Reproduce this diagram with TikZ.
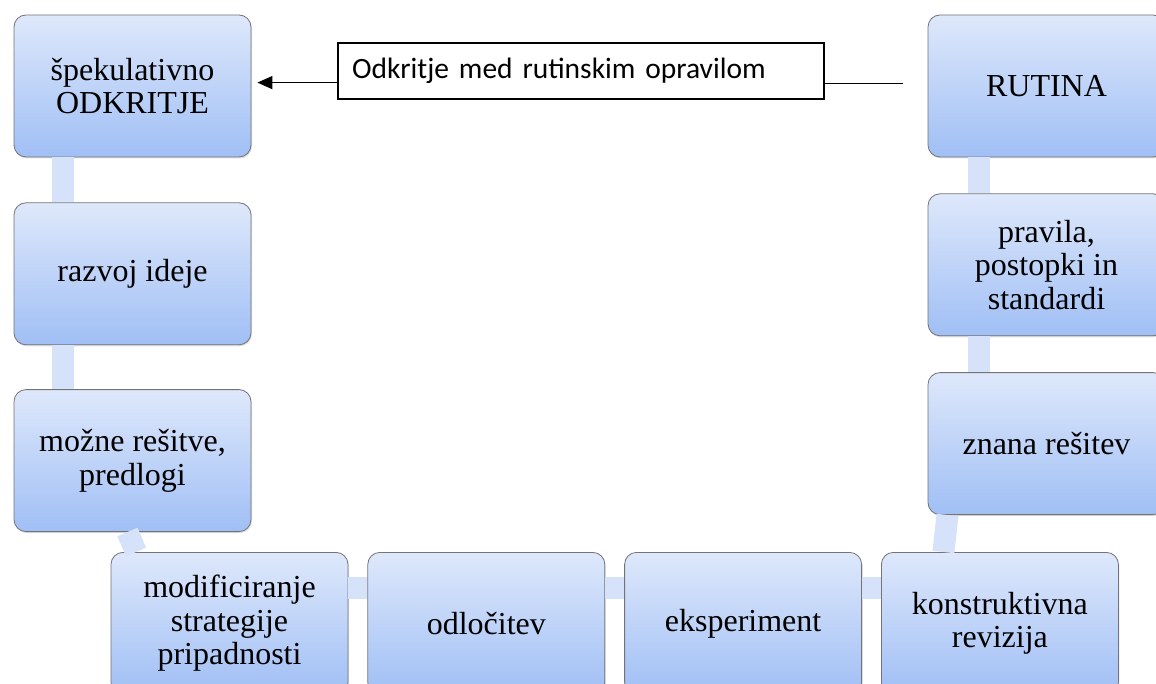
\documentclass[tikz,border=0pt]{standalone}
\usepackage{fontspec}
\setmainfont{Liberation Serif}
\newfontfamily\calib{Carlito}
\usetikzlibrary{positioning, arrows.meta, shadows}
\definecolor{boxtop}{RGB}{222,232,251}
\definecolor{boxbot}{RGB}{160,191,245}
\definecolor{boxline}{RGB}{115,115,120}
\definecolor{linkfill}{RGB}{214,226,249}
\tikzset{
  box/.style={draw=boxline, line width=0.8pt, rounded corners=12pt, top color=boxtop, bottom color=boxbot,
    minimum width=237pt, minimum height=142pt, align=center, inner sep=0pt,
    font=\fontsize{32}{33.5}\selectfont,
    drop shadow={opacity=0.25, shadow xshift=1pt, shadow yshift=-1.5pt}},
  link/.style={draw=linkfill, line width=22pt},
  note/.style={draw, line width=1.2pt, fill=white, text width=458pt, inner xsep=14pt,
    minimum height=56pt, align=left, font=\calib\fontsize{29.5}{33}\selectfont},
  arr/.style={-{Triangle[length=15pt, width=13pt]}, line width=1.5pt},
  plain/.style={line width=1.5pt}
}
\begin{document}
\begin{tikzpicture}[x=1pt, y=-1pt]
\useasboundingbox (0,0) rectangle (1156,684);
% left column
\node[box] (spec) at (132.5,86) {špekulativno\\ODKRITJE};
\node[box, below=45pt of spec] (razvoj) {razvoj ideje};
\node[box, below=44pt of razvoj] (resitve) {možne rešitve,\\predlogi};
% bottom row
\node[box, below=20pt of resitve, xshift=97pt] (modif) {modificiranje\\strategije\\pripadnosti};
\node[box, right=19pt of modif] (odloc) {odločitev};
\node[box, right=19pt of odloc] (eksp) {eksperiment};
\node[box, right=19pt of eksp] (revizija) {konstruktivna\\revizija};
% right column
\node[box] (rutina) at (1046.5,86) {RUTINA};
\node[box, below=36pt of rutina] (pravila) {pravila,\\postopki in\\standardi};
\node[box, below=36pt of pravila] (znana) {znana rešitev};
% links
\draw[link] ([xshift=-69.5pt]spec.south) -- ([xshift=-69.5pt]razvoj.north);
\draw[link] ([xshift=-69.5pt]razvoj.south) -- ([xshift=-69.5pt]resitve.north);
\draw[link] ([xshift=-5pt]resitve.south) -- ([xshift=-93.5pt]modif.north);
\draw[link] ([yshift=-35.5pt]modif.north east) -- ([yshift=-35.5pt]odloc.north west);
\draw[link] ([yshift=-35.5pt]odloc.north east) -- ([yshift=-35.5pt]eksp.north west);
\draw[link] ([yshift=-35.5pt]eksp.north east) -- ([yshift=-35.5pt]revizija.north west);
\draw[link] ([xshift=-99pt]znana.south) -- ([xshift=-56.5pt]revizija.north);
\draw[link] ([xshift=-67.5pt]rutina.south) -- ([xshift=-67.5pt]pravila.north);
\draw[link] ([xshift=-67.5pt]pravila.south) -- ([xshift=-67.5pt]znana.north);
% label with arrow
\node[note] (lbl) at (581,71) {Odkritje med rutinskim opravilom};
\coordinate (ln) at ([yshift=17pt]lbl.south west);
\coordinate (rn) at ([yshift=16pt]lbl.south east);
\draw[arr, shorten >=6pt] (ln) -- (ln -| spec.east);
\draw[plain, shorten >=25pt] (rn) -- (rn -| rutina.west);
\end{tikzpicture}
\end{document}
